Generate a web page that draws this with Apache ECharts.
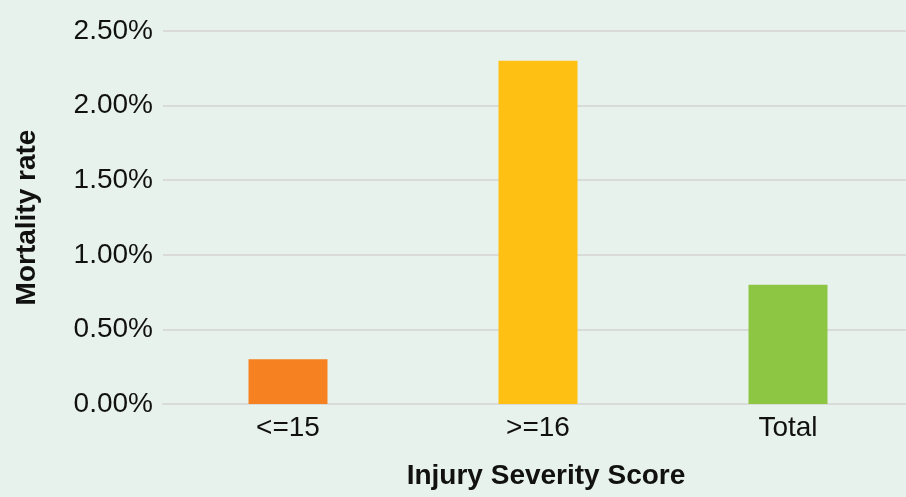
<!DOCTYPE html>
<html>
<head>
<meta charset="utf-8">
<script src="https://cdn.jsdelivr.net/npm/echarts@6/dist/echarts.min.js"></script>
<style>
  html, body { margin: 0; padding: 0; background: #e8f2ec; }
  #chart { width: 906px; height: 497px; }
</style>
</head>
<body>
<div id="chart"></div>
<script>
const categories = ['<=15', '>=16', 'Total']
const mortalityRates = [0.30, 2.30, 0.80]
const barColors = ['#f68121', '#fec113', '#8dc642']
const yTicks = [0, 0.5, 1.0, 1.5, 2.0, 2.5]

const myChart = echarts.init(document.getElementById('chart'))

const options = {
  backgroundColor: '#e8f2ec',
  animation: false,
  grid: {
    left: 163,
    top: 31,
    width: 750,
    height: 373,
    outerBoundsMode: 'none'
  },
  xAxis: {
    type: 'category',
    data: categories,
    name: 'Injury Severity Score',
    nameLocation: 'middle',
    nameGap: 58,
    nameTextStyle: {
      fontFamily: 'Liberation Sans',
      fontWeight: 'bold',
      fontSize: 28,
      color: '#111',
      padding: [0, 0, 0, 16]
    },
    axisLine: {
      lineStyle: { color: '#d8dbd8', width: 2 }
    },
    axisTick: { show: false },
    axisLabel: {
      fontFamily: 'Liberation Sans',
      fontSize: 28,
      color: '#111',
      margin: 10
    }
  },
  yAxis: {
    type: 'value',
    min: yTicks[0],
    max: yTicks[yTicks.length - 1],
    interval: 0.5,
    name: 'Mortality rate',
    nameLocation: 'middle',
    nameGap: 122,
    nameTextStyle: {
      fontFamily: 'Liberation Sans',
      fontWeight: 'bold',
      fontSize: 28,
      color: '#111'
    },
    axisLine: { show: false },
    axisTick: { show: false },
    splitLine: {
      lineStyle: { color: '#d8dbd8', width: 2 }
    },
    axisLabel: {
      fontFamily: 'Liberation Sans',
      fontSize: 28,
      color: '#111',
      margin: 10,
      formatter: (v) => v.toFixed(2) + '%'
    }
  },
  series: [
    {
      type: 'bar',
      barWidth: 79,
      data: mortalityRates.map((v, i) => ({
        value: v,
        itemStyle: { color: barColors[i] }
      }))
    }
  ]
}

myChart.setOption(options)
</script>
</body>
</html>
